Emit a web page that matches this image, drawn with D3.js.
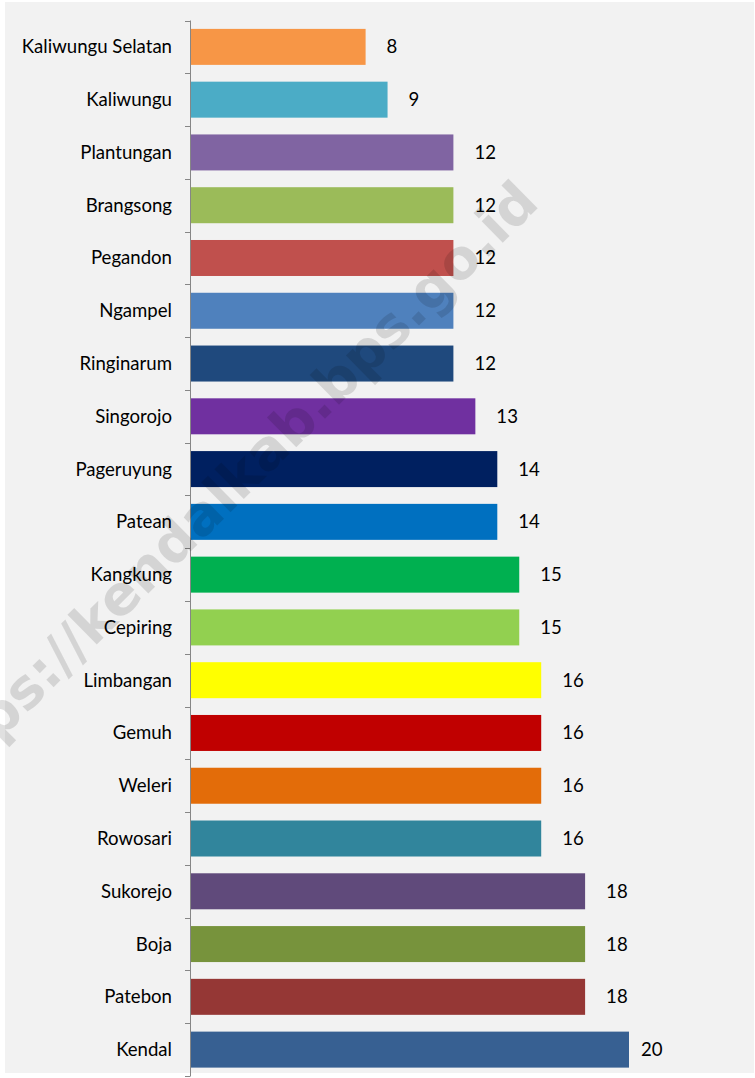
<!DOCTYPE html>
<meta charset="utf-8">
<html>
  <head>
    <title>Kendal bar chart</title>
    <style>
      html,body{
        margin:0;
        padding:0;
        background:#fff;
      }
      text{
        font-family: Lato, 'Noto Sans', Arial, sans-serif;
        fill:#000;
      }
      .cat-label, .val-label{
        font-size:18.6px;
      }
      .watermark{
        font-family:'DejaVu Sans', sans-serif;
        font-weight:bold;
        font-size:55px;
        fill:#000;
        fill-opacity:0.12;
      }
    </style>
  </head>
  <body>
    <svg xmlns="http://www.w3.org/2000/svg"></svg>

    <script src="https://d3js.org/d3.v7.min.js"></script>
    <script type="text/javascript">
      var width = 755, height = 1078;

      // kecamatan, top to bottom
      var categories = ['Kaliwungu Selatan','Kaliwungu','Plantungan','Brangsong','Pegandon',
        'Ngampel','Ringinarum','Singorojo','Pageruyung','Patean','Kangkung','Cepiring',
        'Limbangan','Gemuh','Weleri','Rowosari','Sukorejo','Boja','Patebon','Kendal'];
      var values = [8,9,12,12,12,12,12,13,14,14,15,15,16,16,16,16,18,18,18,20];
      var barColors = ['#F79646','#4BACC6','#8064A2','#9BBB59','#C0504D','#4F81BD','#1F497D',
        '#7030A0','#002060','#0070C0','#00B050','#92D050','#FFFF00','#C00000','#E36C09',
        '#31859C','#604A7B','#77933C','#953735','#376092'];
      var watermarkText = 'https://kendalkab.bps.go.id';

      var svg = d3.select('svg')
        .attr('width', width)
        .attr('height', height);

      // chart area background
      svg.append('rect')
        .attr('x', 5).attr('y', 2)
        .attr('width', 749).attr('height', 1071)
        .attr('fill', '#f2f2f2');

      var x = d3.scaleLinear()
        .domain([0, 25])
        .range([190, 738.75]);

      var y = d3.scaleBand()
        .domain(categories)
        .range([20.5, 1076])
        .paddingInner(0.318)
        .paddingOuter(0.159);

      var data = categories.map(function(c, i){
        return {name: c, value: values[i], color: barColors[i]};
      });

      // bars
      svg.append('g').selectAll('rect')
        .data(data).enter()
        .append('rect')
          .attr('x', x(0))
          .attr('y', function(d){ return y(d.name); })
          .attr('width', function(d){ return x(d.value) - x(0); })
          .attr('height', y.bandwidth())
          .attr('fill', function(d){ return d.color; });

      // axis line + ticks between categories
      var gap = y.step() * y.paddingInner() / 2;
      var tickYs = categories.map(function(c){ return y(c) - gap; });
      tickYs.push(y(categories[categories.length-1]) + y.bandwidth() + gap);

      var axis = svg.append('g').attr('stroke', '#868686').attr('stroke-width', 1);
      axis.append('line')
        .attr('x1', 190.5).attr('x2', 190.5)
        .attr('y1', tickYs[0]).attr('y2', tickYs[tickYs.length-1]);
      axis.selectAll('line.tick')
        .data(tickYs).enter()
        .append('line')
          .attr('class', 'tick')
          .attr('x1', 185).attr('x2', 190.5)
          .attr('y1', function(d){ return Math.round(d) + 0.5; })
          .attr('y2', function(d){ return Math.round(d) + 0.5; });

      // category labels
      svg.append('g').selectAll('text')
        .data(data).enter()
        .append('text')
          .attr('class', 'cat-label')
          .attr('x', 172)
          .attr('y', function(d){ return y(d.name) + y.bandwidth()/2; })
          .attr('dy', '0.35em')
          .attr('text-anchor', 'end')
          .text(function(d){ return d.name; });

      // value labels (excel pulls the last one in at the plot edge)
      svg.append('g').selectAll('text')
        .data(data).enter()
        .append('text')
          .attr('class', 'val-label')
          .attr('x', function(d){ return Math.min(x(d.value) + 21, 641); })
          .attr('y', function(d){ return y(d.name) + y.bandwidth()/2; })
          .attr('dy', '0.35em')
          .text(function(d){ return d.value; });

      // watermark on top
      svg.append('text')
        .attr('class', 'watermark')
        .attr('text-anchor', 'end')
        .attr('transform', 'translate(541,205) rotate(-44.7)')
        .text(watermarkText);
    </script>
  </body>
</html>
